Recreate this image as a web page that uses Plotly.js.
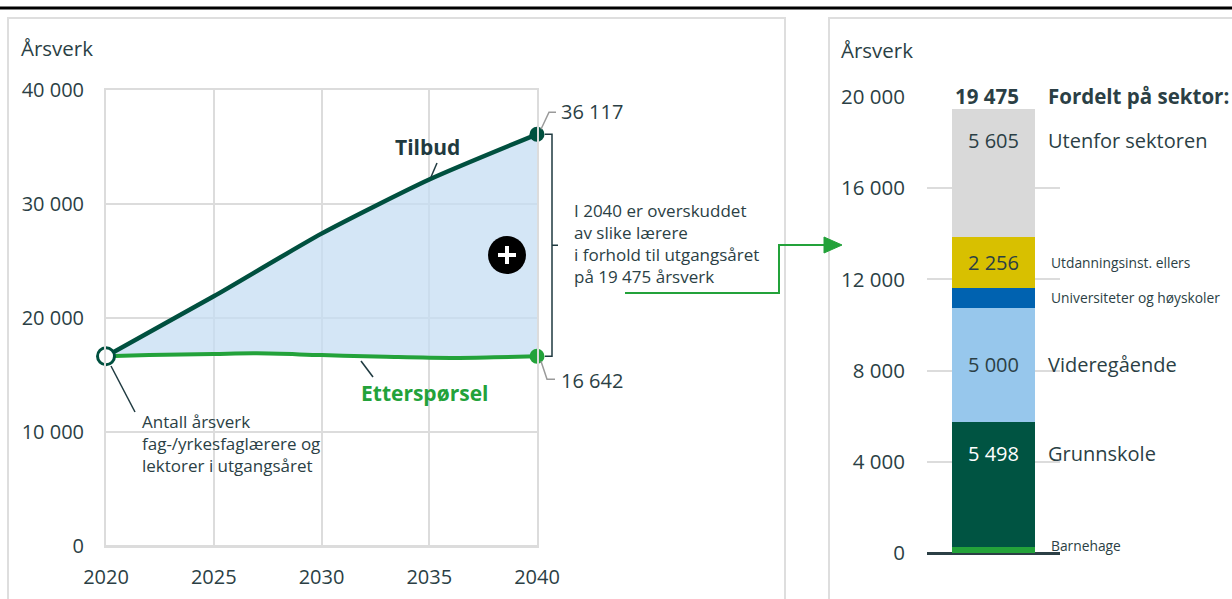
<!DOCTYPE html>
<html>
<head>
<meta charset="utf-8">
<script src="https://cdn.plot.ly/plotly-3.0.1.min.js"></script>
<style>html,body{margin:0;padding:0;background:#fff;}#chart{width:1232px;height:599px;}</style>
</head>
<body>
<div id="chart"></div>
<script>
// ---- Data ----
const tilbudYears = [2020, 2025, 2030, 2035, 2040];
const tilbudValues = [16642, 21900, 27400, 32150, 36117];
const etterYears = [2020, 2022, 2025, 2027, 2030, 2033, 2036, 2038, 2040];
const etterValues = [16642, 16750, 16850, 16900, 16750, 16600, 16500, 16550, 16642];
const startValue = 16642;
const surplus2040 = 19475;

const sectors = ['Barnehage', 'Grunnskole', 'Videregående', 'Universiteter og høyskoler', 'Utdanningsinst. ellers', 'Utenfor sektoren'];
const sectorValues = [266, 5498, 5000, 850, 2256, 5605];
const sectorColors = ['#23a23a', '#005442', '#97c7ec', '#0062b0', '#d8c000', '#d9d9d9'];
const sectorLabelColors = [null, '#ffffff', '#2b3f45', null, '#2b3f45', '#2b3f45'];

const xTicks = [2020, 2025, 2030, 2035, 2040];
const yTicksLeft = [0, 10000, 20000, 30000, 40000];
const yTicksRight = [0, 4000, 8000, 12000, 16000, 20000];

// ---- Geometry helpers ----
const W = 1232, H = 599;
const px = x => x / W;
const py = y => 1 - y / H;
const TXT = '#2b3f45';
const FONT = 'Open Sans';

const lxDom = [px(106), px(537)], lyDom = [py(546), py(90)];
const rxDom = [px(927), px(1060)], ryDom = [py(553), py(97)];
const lx = v => lxDom[0] + (v - 2020) / 20 * (lxDom[1] - lxDom[0]);
const ly = v => lyDom[0] + v / 40000 * (lyDom[1] - lyDom[0]);
const ry = v => ryDom[0] + v / 20000 * (ryDom[1] - ryDom[0]);
const dy = pix => pix / H; // pixel offset to paper

const fmt = v => String(v).replace(/\B(?=(\d{3})+(?!\d))/g, ' ');

const traces = [];
// Etterspørsel (baseline for fill)
traces.push({
  x: etterYears, y: etterValues, type: 'scatter', mode: 'lines',
  line: {color: '#23a23a', width: 4, shape: 'spline', smoothing: 1},
  hoverinfo: 'skip', showlegend: false
});
// Tilbud with fill
traces.push({
  x: tilbudYears, y: tilbudValues, type: 'scatter', mode: 'lines',
  line: {color: '#00503f', width: 4.5, shape: 'spline', smoothing: 0.6},
  fill: 'tonexty', fillcolor: 'rgba(197,222,243,0.75)',
  hoverinfo: 'skip', showlegend: false
});
// Endpoint markers
traces.push({
  x: [tilbudYears[tilbudYears.length - 1]], y: [tilbudValues[tilbudValues.length - 1]],
  type: 'scatter', mode: 'markers', marker: {size: 15, color: '#00503f'}, cliponaxis: false,
  hoverinfo: 'skip', showlegend: false
});
traces.push({
  x: [etterYears[etterYears.length - 1]], y: [etterValues[etterValues.length - 1]],
  type: 'scatter', mode: 'markers', marker: {size: 15, color: '#23a23a'}, cliponaxis: false,
  hoverinfo: 'skip', showlegend: false
});
traces.push({
  x: [tilbudYears[0]], y: [startValue],
  type: 'scatter', mode: 'markers', marker: {size: 17, color: '#ffffff', line: {color: '#00503f', width: 3}}, cliponaxis: false,
  hoverinfo: 'skip', showlegend: false
});
// Stacked bar
sectors.forEach((s, i) => {
  traces.push({
    x: [0], y: [sectorValues[i]], type: 'bar', name: s,
    marker: {color: sectorColors[i], line: {width: 0}}, width: 0.63,
    xaxis: 'x2', yaxis: 'y2', hoverinfo: 'skip', showlegend: false
  });
});

const annotations = [];
const shapes = [];
const ann = (o) => annotations.push(Object.assign({xref: 'paper', yref: 'paper', showarrow: false, font: {family: FONT, size: 17, color: TXT}}, o));

// Axis titles
ann({text: 'Årsverk', x: px(19), y: py(48), xanchor: 'left', yanchor: 'middle', font: {family: FONT, size: 20.5, color: TXT}});
ann({text: 'Årsverk', x: px(839), y: py(50), xanchor: 'left', yanchor: 'middle', font: {family: FONT, size: 20.5, color: TXT}});

// Value labels at 2040
const tEnd = tilbudValues[tilbudValues.length - 1];
const eEnd = etterValues[etterValues.length - 1];
ann({text: fmt(tEnd), x: px(559), y: ly(tEnd) + dy(23), xanchor: 'left', yanchor: 'middle', font: {family: FONT, size: 20, color: TXT}});
ann({text: fmt(eEnd), x: px(559), y: ly(eEnd) - dy(24), xanchor: 'left', yanchor: 'middle', font: {family: FONT, size: 20, color: TXT}});
shapes.push({type: 'path', xref: 'paper', yref: 'paper', line: {color: '#9a9a9a', width: 1.5},
  path: `M ${px(541)},${ly(tEnd) + dy(5)} L ${px(549)},${ly(tEnd) + dy(22)} L ${px(556)},${ly(tEnd) + dy(22)}`});
shapes.push({type: 'path', xref: 'paper', yref: 'paper', line: {color: '#9a9a9a', width: 1.5},
  path: `M ${px(541)},${ly(eEnd) - dy(5)} L ${px(547)},${ly(eEnd) - dy(23)} L ${px(555)},${ly(eEnd) - dy(23)}`});

// Series labels
ann({text: '<b>Tilbud</b>', x: px(427), y: py(147), xanchor: 'center', yanchor: 'middle', font: {family: FONT, size: 21, color: '#1f3a40'}});
shapes.push({type: 'line', xref: 'paper', yref: 'paper', x0: px(437), y0: py(163), x1: px(431), y1: py(177), line: {color: '#1f3a40', width: 1.5}});
ann({text: '<b>Etterspørsel</b>', x: px(424), y: py(393), xanchor: 'center', yanchor: 'middle', font: {family: FONT, size: 21, color: '#23a23a'}});
shapes.push({type: 'line', xref: 'paper', yref: 'paper', x0: px(361), y0: py(361), x1: px(373), y1: py(377), line: {color: '#1f3a40', width: 1.5}});

// Start annotation
ann({text: 'Antall årsverk<br>fag-/yrkesfaglærere og<br>lektorer i utgangsåret', x: px(140), y: py(443), xanchor: 'left', yanchor: 'middle', align: 'left', font: {family: FONT, size: 17, color: TXT}});
shapes.push({type: 'line', xref: 'paper', yref: 'paper', x0: px(111), y0: py(366), x1: px(135), y1: py(412), line: {color: '#1f3a40', width: 1.5}});

// Bracket
const bx = px(552);
const bMid = (ly(tEnd) + ly(eEnd)) / 2;
shapes.push({type: 'path', xref: 'paper', yref: 'paper', line: {color: '#1f3a40', width: 1.5},
  path: `M ${px(545)},${ly(tEnd)} L ${bx},${ly(tEnd)} L ${bx},${ly(eEnd)} L ${px(545)},${ly(eEnd)} M ${bx},${bMid} L ${px(558)},${bMid}`});
ann({text: 'I 2040 er overskuddet<br>av slike lærere<br>i forhold til utgangsåret<br>på ' + fmt(surplus2040) + ' årsverk',
  x: px(572), y: py(244), xanchor: 'left', yanchor: 'middle', align: 'left', font: {family: FONT, size: 17, color: TXT}});

// Green arrow
shapes.push({type: 'path', xref: 'paper', yref: 'paper', line: {color: '#23a23a', width: 2},
  path: `M ${px(625)},${py(293)} L ${px(779)},${py(293)} L ${px(779)},${py(245)} L ${px(826)},${py(245)}`});
shapes.push({type: 'path', xref: 'paper', yref: 'paper', line: {color: '#23a23a', width: 1}, fillcolor: '#23a23a',
  path: `M ${px(824)},${py(237)} L ${px(842)},${py(245)} L ${px(824)},${py(253)} Z`});

// Plus circle
shapes.push({type: 'circle', xref: 'paper', yref: 'paper', x0: px(488), x1: px(526), y0: py(274), y1: py(236), fillcolor: '#000000', line: {color: '#000000', width: 0}});
shapes.push({type: 'line', xref: 'paper', yref: 'paper', x0: px(498), x1: px(516), y0: py(255), y1: py(255), line: {color: '#ffffff', width: 4}});
shapes.push({type: 'line', xref: 'paper', yref: 'paper', x0: px(507), x1: px(507), y0: py(246), y1: py(264), line: {color: '#ffffff', width: 4}});

// Frames and top rule
shapes.push({type: 'rect', xref: 'paper', yref: 'paper', x0: px(8), x1: px(785), y0: -0.05, y1: py(18), line: {color: '#dedede', width: 2}, layer: 'below'});
shapes.push({type: 'rect', xref: 'paper', yref: 'paper', x0: px(829), x1: 1.05, y0: -0.05, y1: py(18), line: {color: '#dedede', width: 2}, layer: 'below'});
shapes.push({type: 'line', xref: 'paper', yref: 'paper', x0: 0, x1: 1, y0: py(8), y1: py(8), line: {color: '#000000', width: 3}});

// Bar labels
let cum = 0;
const total = sectorValues.reduce((a, b) => a + b, 0);
sectors.forEach((s, i) => {
  const bottom = cum, top = cum + sectorValues[i];
  cum = top;
  const center = (bottom + top) / 2;
  const labelV = sectorValues[i] > 5200 ? top - 1390 : center;
  const big = sectorValues[i] >= 4000;
  if (sectorLabelColors[i]) {
    ann({text: fmt(sectorValues[i]), x: px(993.5), y: ry(labelV), xanchor: 'center', yanchor: 'middle', font: {family: FONT, size: 20, color: sectorLabelColors[i]}});
  }
  const yy = i === 0 ? ry(center) + dy(4) : ry(labelV);
  ann({text: s, x: big ? px(1046) : px(1049), y: yy, xanchor: 'left', yanchor: 'middle', font: {family: FONT, size: big ? 20 : 13.8, color: TXT}});
});
ann({text: '<b>' + fmt(total) + '</b>', x: px(987), y: py(96), xanchor: 'center', yanchor: 'middle', font: {family: FONT, size: 20.5, color: TXT}});
ann({text: '<b>Fordelt på sektor:</b>', x: px(1046), y: py(96), xanchor: 'left', yanchor: 'middle', font: {family: FONT, size: 20.5, color: TXT}});

const layout = {
  width: W, height: H,
  margin: {l: 0, r: 0, t: 0, b: 0},
  paper_bgcolor: '#ffffff', plot_bgcolor: 'rgba(0,0,0,0)',
  separators: ', ',
  font: {family: FONT, color: TXT},
  barmode: 'stack',
  showlegend: false,
  xaxis: {
    domain: lxDom, range: [2020, 2040], tickvals: xTicks, tickformat: 'd',
    showgrid: true, gridcolor: '#dcdcdc', gridwidth: 2, zeroline: false,
    showline: true, mirror: true, linecolor: '#dcdcdc', linewidth: 2,
    ticks: 'outside', ticklen: 12, tickcolor: 'rgba(0,0,0,0)',
    tickfont: {family: FONT, size: 20, color: TXT}, fixedrange: true
  },
  yaxis: {
    domain: lyDom, range: [0, 40000], tickvals: yTicksLeft, tickformat: ',d',
    showgrid: true, gridcolor: '#dcdcdc', gridwidth: 2, zeroline: true, zerolinecolor: '#dcdcdc', zerolinewidth: 2,
    showline: true, mirror: true, linecolor: '#dcdcdc', linewidth: 2,
    ticks: 'outside', ticklen: 16, tickcolor: 'rgba(0,0,0,0)',
    tickfont: {family: FONT, size: 20, color: TXT}, fixedrange: true
  },
  xaxis2: {
    domain: rxDom, range: [-0.5, 0.5], anchor: 'y2', showgrid: false, zeroline: false,
    showticklabels: false, ticks: '', fixedrange: true
  },
  yaxis2: {
    domain: ryDom, range: [0, 20000], anchor: 'x2', tickvals: yTicksRight, tickformat: ',d',
    showgrid: true, gridcolor: '#dcdcdc', gridwidth: 2, zeroline: true, zerolinecolor: '#2b3f45', zerolinewidth: 3,
    ticks: 'outside', ticklen: 17, tickcolor: 'rgba(0,0,0,0)',
    tickfont: {family: FONT, size: 20.5, color: TXT}, fixedrange: true
  },
  annotations: annotations,
  shapes: shapes
};

Plotly.newPlot('chart', traces, layout, {displayModeBar: false, staticPlot: true});
</script>
</body>
</html>
